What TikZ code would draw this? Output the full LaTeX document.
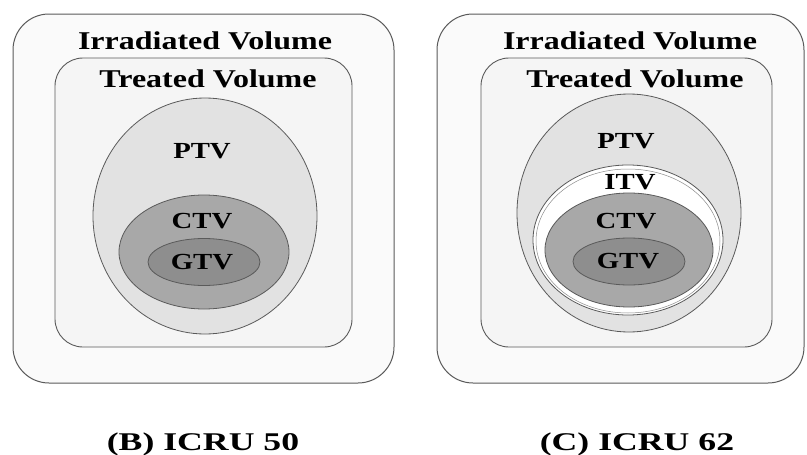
\documentclass[tikz,border=0pt]{standalone}
\usepackage{fontspec}
\newfontfamily\vfont[FakeStretch=1.25]{Liberation Serif}
\newfontfamily\capfont[FakeStretch=1.4]{Liberation Serif}
\definecolor{outerbg}{HTML}{FAFAFA}
\definecolor{innerbg}{HTML}{F5F5F5}
\definecolor{ptvc}{HTML}{E2E2E2}
\definecolor{ctvc}{HTML}{A8A8A8}
\definecolor{gtvc}{HTML}{8E8E8E}
\definecolor{edge}{HTML}{5A5A5A}
\tikzset{
  outerbox/.style={draw=edge, line width=1pt, fill=outerbg, rounded corners=36pt},
  innerbox/.style={draw=edge, line width=0.9pt, fill=innerbg, rounded corners=28pt},
  vol/.style={draw=edge, line width=0.8pt},
  titletext/.style={anchor=base, inner sep=0pt, font=\vfont\bfseries\fontsize{25.6}{28}\selectfont},
  labtext/.style={anchor=base, inner sep=0pt, font=\vfont\bfseries\fontsize{23}{26}\selectfont},
  captext/.style={anchor=base, inner sep=0pt, font=\capfont\bfseries\fontsize{25.5}{28}\selectfont},
}
\begin{document}
\begin{tikzpicture}[x=1pt,y=-1pt]
\useasboundingbox (0,0) rectangle (807,455);
% ---- left panel (ICRU 50)
\draw[outerbox] (13,14) rectangle (394,383);
\draw[innerbox] (55,58) rectangle (352,347);
\draw[vol, fill=ptvc] (205,216) ellipse [x radius=112, y radius=118];
\draw[vol, fill=ctvc] (204,252) ellipse [x radius=85, y radius=57];
\draw[vol, fill=gtvc] (204,262) ellipse [x radius=56, y radius=23.5];
\node[titletext] (irrL) at (205,49) {Irradiated Volume};
\node[titletext] (treL) at (208,87) {Treated Volume};
\node[labtext] (ptvL) at (202,158) {PTV};
\node[labtext] (ctvL) at (202,228) {CTV};
\node[labtext] (gtvL) at (202,269) {GTV};
% ---- right panel (ICRU 62)
\draw[outerbox] (437,14) rectangle (804,383);
\draw[innerbox] (481,58) rectangle (772,347);
\draw[vol, fill=ptvc] (629,213) ellipse [x radius=112, y radius=119];
\draw[vol, fill=white] (628,240) ellipse [x radius=95, y radius=75];
\draw[draw=edge!70, line width=0.5pt] (628,241) ellipse [x radius=92, y radius=72];
\draw[vol, fill=ctvc] (629,250) ellipse [x radius=84, y radius=57];
\draw[vol, fill=gtvc] (629,261.5) ellipse [x radius=56, y radius=23.5];
\node[titletext] (irrR) at (630,49) {Irradiated Volume};
\node[titletext] (treR) at (635,87) {Treated Volume};
\node[labtext] (ptvR) at (626,148) {PTV};
\node[labtext] (itvR) at (630,189) {ITV};
\node[labtext] (ctvR) at (626,228) {CTV};
\node[labtext] (gtvR) at (628,268) {GTV};
% ---- captions
\node[captext] (capB) at (203,450) {(B) ICRU 50};
\node[captext] (capC) at (637,450) {(C) ICRU 62};
\end{tikzpicture}
\end{document}
